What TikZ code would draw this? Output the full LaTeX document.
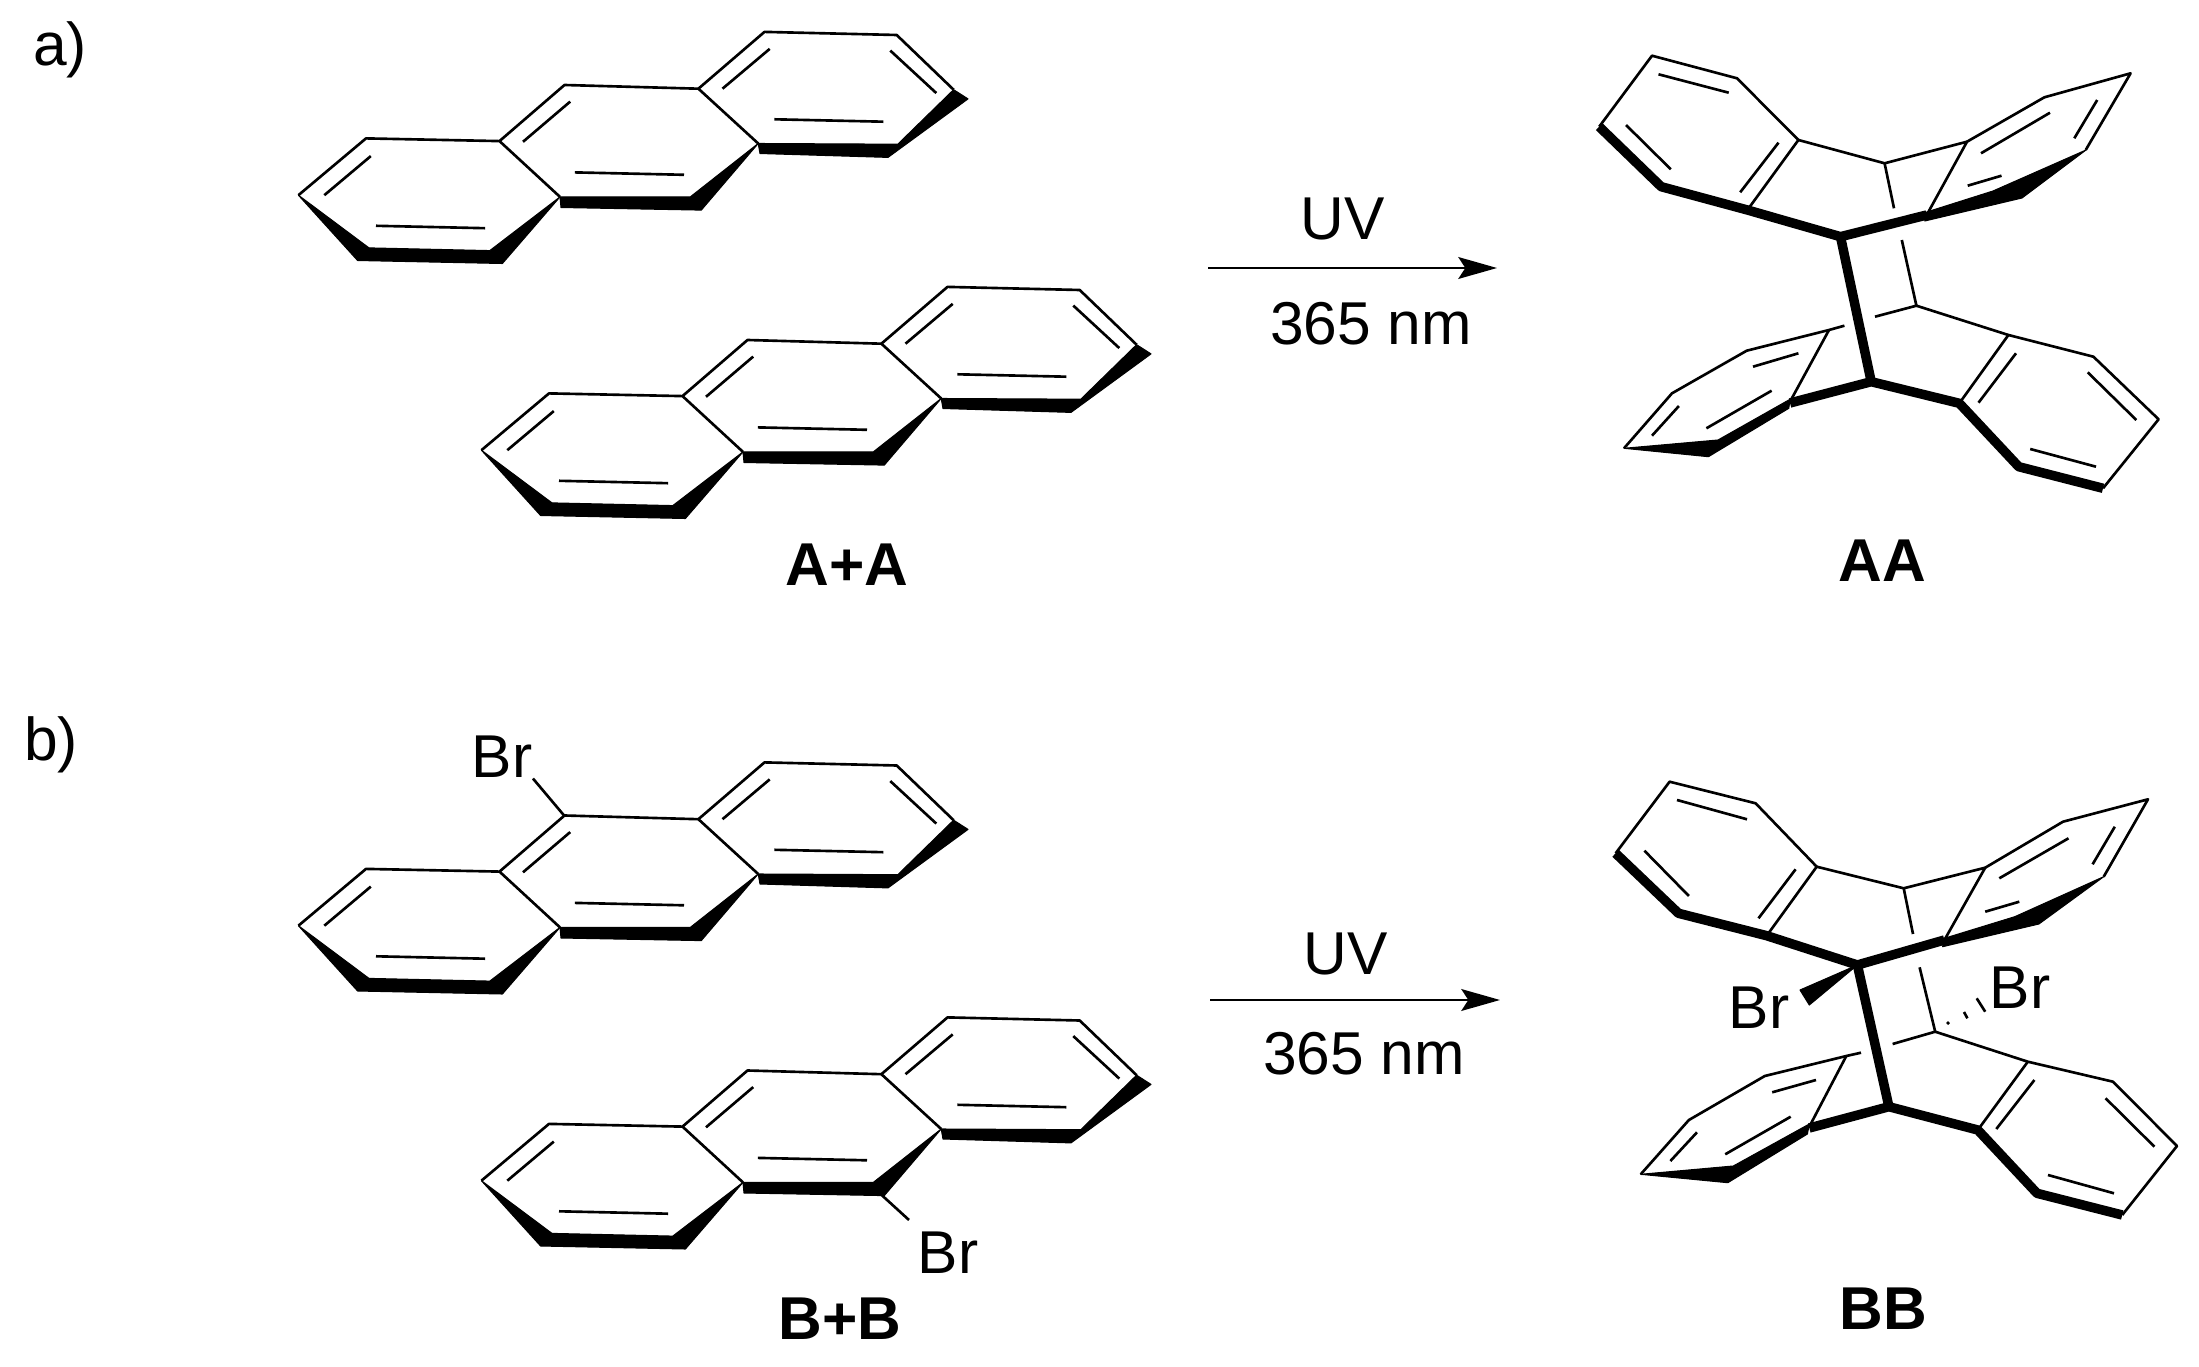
\documentclass[tikz,border=0pt]{standalone}
\usepackage{fontspec}
\setmainfont{Liberation Sans}
\usetikzlibrary{arrows.meta}

\tikzset{
  thinbond/.style={line width=0.75pt, line join=round},
  boldbond/.style={line width=2.7pt, line join=round},
  wedgebond/.style={fill=black, draw=black, line width=0.3pt, line join=round},
  chemlabel/.style={font=\fontsize{17.2}{20}\selectfont, inner sep=0pt},
  boldlabel/.style={font=\fontsize{17.2}{20}\selectfont\bfseries, inner sep=0pt},
  rxnarrow/.style={line width=0.75pt, -{Stealth[length=11pt, width=6.2pt, inset=2pt]}}
}

\begin{document}
\begin{tikzpicture}[x=0.01cm, y=-0.01cm]
  \useasboundingbox (0,0) rectangle (2199,1367);

  % Draw the four starting molecules
  \foreach \dx/\dy in {0/1.5, 183/256.5, 0/732, 183/987} {
    \begin{scope}[shift={(\dx,\dy)}]
      % ring outlines
      \draw[thinbond] (298.4,193.7) -- (366,136.9) -- (499.5,139.6) -- (560,195.4);
      \draw[thinbond] (499.5,139.6) -- (564.5,83.5) -- (698.4,87.2) -- (758.2,142);
      \draw[thinbond] (698.4,87.2) -- (764.5,30.4) -- (896.7,33.5) -- (953.6,88.2);
      % inner lines of the double bonds
      \foreach \xa/\ya/\xb/\yb in {370.8/154.6/324.3/193.7, 485.2/226.7/376/224.3, 570.2/100.1/523/140.3,
        684/173.3/574.8/170.9, 769.7/47.4/722.5/87.2, 883.4/120.2/774.3/117.8, 936.3/91.6/890.3/49.1} {
        \draw[thinbond] (\xa,\ya) -- (\xb,\yb);
      }
      % front edges
      \fill[wedgebond] (298.4,193.7) -- (357.6,259) -- (502.4,262) -- (560,195.4) -- (489.8,249.1) -- (369,246.4) -- cycle;
      \fill[wedgebond] (560,195.4) -- (561,206) -- (701.3,208.6) -- (758.2,142) -- (690.3,195.4) -- cycle;
      \fill[wedgebond] (758.2,142) -- (760,152) -- (888,155.9) -- (968,97.4) -- (953.6,88.2) -- (897.8,142.7) -- cycle;
    \end{scope}
  }

  % Draw the photodimer AA
  \draw[thinbond] (1599.2,126.7) -- (1652,55.7) -- (1737,78.3) -- (1798.4,140) -- (1747.4,210);
  \draw[thinbond] (1798.4,140) -- (1884.6,163.3) -- (1967,141.7) -- (1926.7,215);
  \draw[thinbond] (1967,141.7) -- (2044.4,97.3) -- (2130.6,73.3) -- (2085.7,150);
  \draw[thinbond] (1884.6,163.3) -- (1894,208.3);
  \draw[thinbond] (1901.8,240) -- (1916.4,305.7) -- (1875,316.7);
  \draw[thinbond] (1844.4,325.7) -- (1829,330) -- (1746.7,350.7) -- (1672,393.3) -- (1624,448.3);
  \draw[thinbond] (1829,330) -- (1790,401.7);
  \draw[thinbond] (1916.4,305.7) -- (2008.4,335) -- (2093.4,356.7) -- (2158.6,419.3) -- (2103,488.3);
  \draw[thinbond] (2008.4,335) -- (1959.3,403.3);
  \foreach \xa/\ya/\xb/\yb in {1658.5/74.3/1728.7/92.7, 1626/125/1670.8/169.3, 1778.5/142.7/1740.2/192.3,
    1981/153.3/2050/112.7, 2097.2/100/2074.3/138.3, 1967.7/185.7/2001.5/175.7,
    1753/366.7/1798.4/353.3, 1706.4/428.3/1771.6/390.7, 1652/435.7/1678.9/406,
    1978.5/402.7/2016/353.3, 2087.7/372.3/2136.3/420, 2030.2/449/2096/466.7} {
    \draw[thinbond] (\xa,\ya) -- (\xb,\yb);
  }
  \draw[boldbond] (1599.2,126.7) -- (1661.2,186.7) -- (1747.4,210) -- (1840.5,236.7) -- (1926.7,215);
  \draw[boldbond] (1840.5,236.7) -- (1871.2,381.7);
  \draw[boldbond] (1790,403) -- (1871.2,381.7) -- (1959.3,403.3) -- (2018.7,466.7) -- (2103,488.3);
  \fill[wedgebond] (1926.7,212) -- (1924.8,221) -- (2022,198) -- (2086,150) -- (1993,191) -- cycle;
  \fill[wedgebond] (1790,399.3) -- (1718,440) -- (1624,448.3) -- (1708.4,456.7) -- (1788.8,408.3) -- cycle;

  % Draw the photodimer BB
  \draw[thinbond] (1615.6,853.3) -- (1669.6,781.7) -- (1755.6,803.3) -- (1816.7,866.7) -- (1766.7,935.7);
  \draw[thinbond] (1816.7,866.7) -- (1903.7,888.3) -- (1985.2,867.7) -- (1944.4,940);
  \draw[thinbond] (1985.2,867.7) -- (2063,821.7) -- (2148,799.3) -- (2103.7,876.7);
  \draw[thinbond] (1903.7,888.3) -- (1913,934);
  \draw[thinbond] (1919.6,967.3) -- (1935.2,1031.7) -- (1892.6,1044);
  \draw[thinbond] (1861,1052.7) -- (1846.3,1056) -- (1764.8,1076) -- (1688.9,1120) -- (1640.7,1174.3);
  \draw[thinbond] (1846.3,1056) -- (1809.3,1126.7);
  \draw[thinbond] (1935.2,1031.7) -- (2027.8,1061.7) -- (2113,1081.7) -- (2177,1146) -- (2122.2,1215);
  \draw[thinbond] (2027.8,1061.7) -- (1977.8,1130);
  \foreach \xa/\ya/\xb/\yb in {1677/800/1747/819.3, 1644.4/850.7/1688.9/896, 1795.6/869.3/1758.5/918.3,
    1999.3/878.3/2068.5/838.3, 2114.8/826.7/2092.6/864.3, 1985.2/911.7/2019.3/901.7,
    1772.2/1092.3/1816/1080, 1725.2/1154.3/1790.7/1116.7, 1670.4/1161/1697/1132.3,
    1996.3/1129/2034.4/1080, 2105.6/1098.3/2154.4/1146.7, 2048/1175/2114/1193.3} {
    \draw[thinbond] (\xa,\ya) -- (\xb,\yb);
  }
  \draw[boldbond] (1615.6,853.3) -- (1678.5,913.3) -- (1766.7,935.7) -- (1857.4,965) -- (1944.4,940);
  \draw[boldbond] (1857.4,965) -- (1888.9,1106.7);
  \draw[boldbond] (1809.3,1128) -- (1888.9,1106.7) -- (1977.8,1130) -- (2037,1193.3) -- (2122.2,1215);
  \fill[wedgebond] (1944.4,938.3) -- (1942.6,946.7) -- (2038.9,924) -- (2103.7,876.7) -- (2014.8,916.7) -- cycle;
  \fill[wedgebond] (1809.3,1124) -- (1733.3,1166) -- (1640.7,1174.3) -- (1727.8,1182.7) -- (1807.4,1134) -- cycle;

  % Bromine substituents
  \node[chemlabel] (brtop) at (502,757) {Br};
  \coordinate (brtopc) at (564.5,816);
  \draw[thinbond] (brtopc) -- (brtop.south east);
  \node[chemlabel] (brlow) at (948,1253) {Br};
  \coordinate (brlowc) at (879.4,1193);
  \coordinate (brlowe) at (909,1220);
  \draw[thinbond] (brlowc) -- (brlowe);
  \node[chemlabel] (brleft) at (1759,1008) {Br};
  \node[chemlabel] (brright) at (2020,988) {Br};
  \fill[wedgebond] (1857.4,965) -- (1800,990) -- (1809.3,1005) -- cycle;
  \draw[thinbond] (1947,1022) -- (1949,1024);
  \draw[thinbond] (1964,1012) -- (1967.4,1018.3);
  \draw[thinbond] (1976.7,998.3) -- (1985.2,1011.7);

  % Reaction arrows
  \coordinate (arrowastart) at (1208,268);
  \coordinate (arrowaend) at (1497,268);
  \draw[rxnarrow] (arrowastart) -- (arrowaend);
  \node[chemlabel] (uva) at (1343,219) {UV};
  \node[chemlabel] (nma) at (1371,324) {365 nm};
  \coordinate (arrowbstart) at (1210,1000);
  \coordinate (arrowbend) at (1500,1000);
  \draw[rxnarrow] (arrowbstart) -- (arrowbend);
  \node[chemlabel] (uvb) at (1346,954) {UV};
  \node[chemlabel] (nmb) at (1364,1054) {365 nm};

  % Labels
  \node[chemlabel] (parta) at (60,50) {a)};
  \node[chemlabel] (partb) at (51,745) {b)};
  \node[boldlabel] (aplusa) at (847,565) {A+A};
  \node[boldlabel] (aalabel) at (1882,561) {AA};
  \node[boldlabel] (bplusb) at (840,1319) {B+B};
  \node[boldlabel] (bblabel) at (1883,1309) {BB};

\end{tikzpicture}
\end{document}
